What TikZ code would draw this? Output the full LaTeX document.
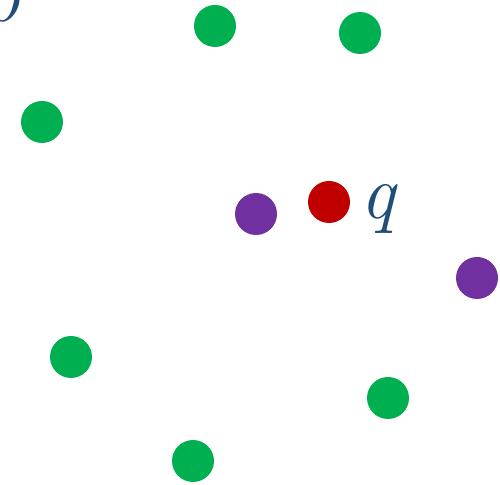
\documentclass[tikz,border=0pt]{standalone}
\usepackage{tikz}
\usepackage{xcolor}
\definecolor{ptgreen}{HTML}{00B050}
\definecolor{ptpurple}{HTML}{7030A0}
\definecolor{ptred}{HTML}{C00000}
\definecolor{lblblue}{HTML}{1F4E79}

\begin{document}
\begin{tikzpicture}[
    dot/.style={circle, inner sep=0pt, minimum size=0.84cm},
    lbl/.style={font=\fontsize{44}{50}\selectfont\itshape, text=lblblue, inner sep=0pt}
]

% Frame
\clip (0,0) rectangle (10,9.68);
\useasboundingbox (0,0) rectangle (10,9.68);

% Cut-off label
\node[lbl, anchor=base east] (corner) at (0.42,9.24) {p};

% Green points
\node[dot, fill=ptgreen] (g1) at (4.30,9.16) {};
\node[dot, fill=ptgreen] (g2) at (7.20,9.02) {};
\node[dot, fill=ptgreen] (g3) at (0.84,7.24) {};
\node[dot, fill=ptgreen] (g4) at (1.42,2.54) {};
\node[dot, fill=ptgreen] (g5) at (7.76,1.72) {};
\node[dot, fill=ptgreen] (g6) at (3.86,0.46) {};

% Purple points
\node[dot, fill=ptpurple] (v1) at (5.12,5.40) {};
\node[dot, fill=ptpurple] (v2) at (9.54,4.12) {};

% Query
\node[dot, fill=ptred] (q) at (6.58,5.64) {};
\node[lbl, anchor=base west] (qlbl) at (7.2,5.3) {q};

\end{tikzpicture}
\end{document}
